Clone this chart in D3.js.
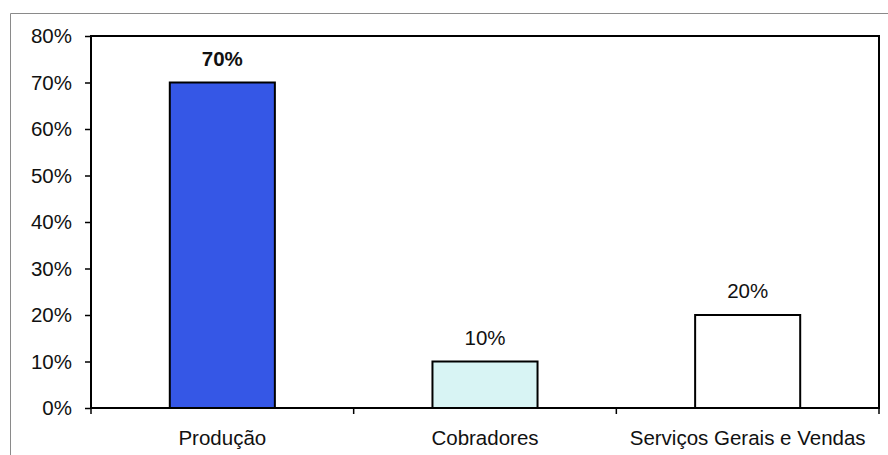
<!DOCTYPE html>
<html>
<head>
<meta charset="utf-8">
<script src="https://cdn.jsdelivr.net/npm/d3@7"></script>
<style>
  html, body { margin: 0; padding: 0; background: #fff; }
  svg { display: block; font-family: Arial, "Liberation Sans", sans-serif; }
</style>
</head>
<body>
<svg id="chart" width="888" height="455"></svg>
<script>
// Share of staff by sector
const categories = ["Produção", "Cobradores", "Serviços Gerais e Vendas"];
const values = [70, 10, 20];
const valueLabels = ["70%", "10%", "20%"];
const yTicks = [0, 10, 20, 30, 40, 50, 60, 70, 80];
const barColors = ["#3557e6", "#d8f4f4", "#ffffff"];

const svg = d3.select("#chart");
const plot = { left: 91, right: 879, top: 36, bottom: 408 };
const fontSize = "20.5px";

// outer frame of the chart object
svg.append("path")
  .attr("d", `M10.5,460 V13.5 H890`)
  .attr("fill", "none")
  .attr("stroke", "#8a8a8a")
  .attr("stroke-width", 1);

const x = d3.scaleBand()
  .domain(categories)
  .range([plot.left, plot.right])
  .paddingInner(0.6)
  .paddingOuter(0.3);

const y = d3.scaleLinear()
  .domain([0, 80])
  .range([plot.bottom, plot.top]);

// y axis ticks and labels
const yAxis = d3.axisLeft(y)
  .tickValues(yTicks)
  .tickFormat(d => d + "%")
  .tickSize(6)
  .tickPadding(13);
const gy = svg.append("g")
  .attr("transform", `translate(${plot.left},0)`)
  .call(yAxis);
gy.select(".domain").remove();
gy.selectAll(".tick line").attr("stroke", "#000").attr("stroke-width", 1.5);
gy.selectAll(".tick text")
  .attr("fill", "#111")
  .style("font-size", fontSize);

// x axis tick marks at category boundaries
const boundaries = d3.range(categories.length + 1).map(i => plot.left + i * x.step());
svg.append("g").selectAll("line")
  .data(boundaries)
  .join("line")
  .attr("x1", d => d).attr("x2", d => d)
  .attr("y1", plot.bottom).attr("y2", plot.bottom + 6)
  .attr("stroke", "#000")
  .attr("stroke-width", 1.5);

// category labels
svg.append("g").selectAll("text")
  .data(categories)
  .join("text")
  .attr("x", d => x(d) + x.bandwidth() / 2)
  .attr("y", plot.bottom + 37)
  .attr("text-anchor", "middle")
  .attr("fill", "#111")
  .style("font-size", fontSize)
  .text(d => d);

// bars
svg.append("g").selectAll("rect")
  .data(values)
  .join("rect")
  .attr("x", (d, i) => x(categories[i]))
  .attr("y", d => y(d))
  .attr("width", x.bandwidth())
  .attr("height", d => y(0) - y(d))
  .attr("fill", (d, i) => barColors[i])
  .attr("stroke", "#000")
  .attr("stroke-width", 2);

// value labels above bars
svg.append("g").selectAll("text")
  .data(values)
  .join("text")
  .attr("x", (d, i) => x(categories[i]) + x.bandwidth() / 2)
  .attr("y", d => y(d) - 17)
  .attr("text-anchor", "middle")
  .attr("fill", "#111")
  .style("font-size", fontSize)
  .style("font-weight", (d, i) => i === 0 ? "bold" : "normal")
  .text((d, i) => valueLabels[i]);

// plot area frame
svg.append("rect")
  .attr("x", plot.left)
  .attr("y", plot.top)
  .attr("width", plot.right - plot.left)
  .attr("height", plot.bottom - plot.top)
  .attr("fill", "none")
  .attr("stroke", "#000")
  .attr("stroke-width", 2);
</script>
</body>
</html>
